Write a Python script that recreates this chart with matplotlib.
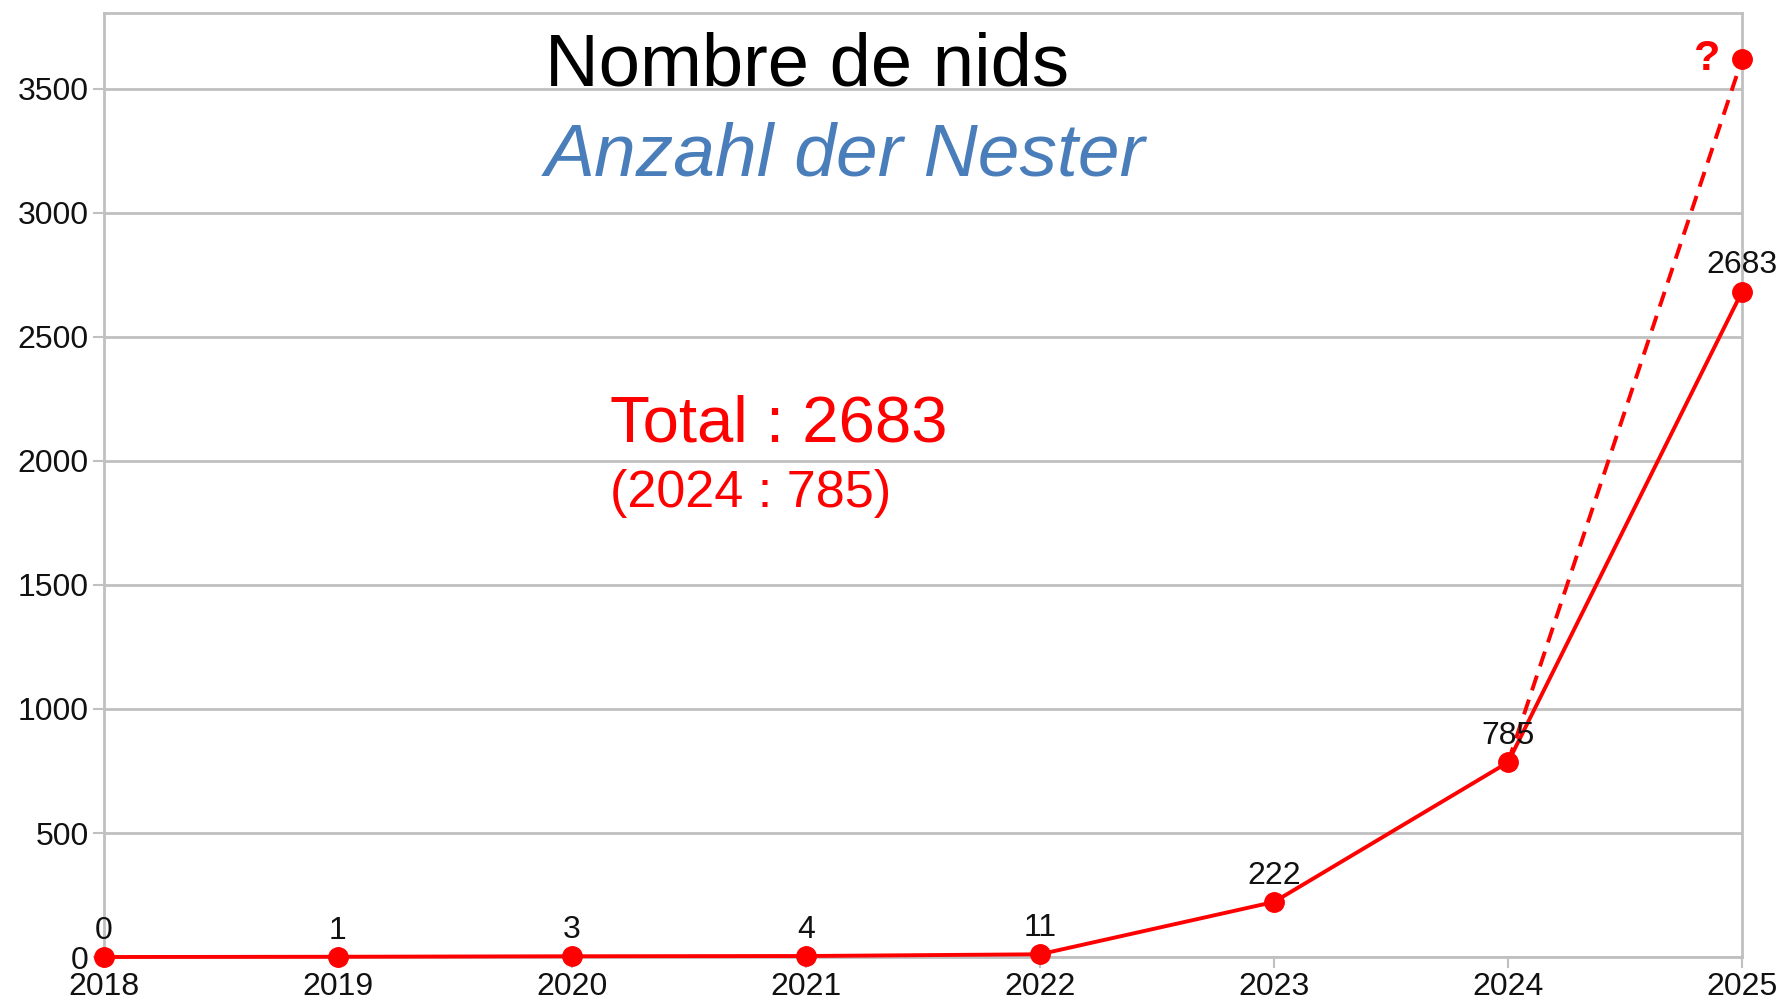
import matplotlib

matplotlib.use("Agg")
import matplotlib.pyplot as plt

plt.rcParams["font.family"] = ["Liberation Sans", "DejaVu Sans"]

# data
years = [2018, 2019, 2020, 2021, 2022, 2023, 2024, 2025]
nests = [0, 1, 3, 4, 11, 222, 785, 2683]
proj_years = [2024, 2025]
proj_nests = [785, 3620]
yticks = [0, 500, 1000, 1500, 2000, 2500, 3000, 3500]

RED = "#ff0000"
GRID = "#c0c0c0"

fig = plt.figure(figsize=(17.86, 10.06), dpi=100)
ax = fig.add_axes([0.0582, 0.0487, 0.9172, 0.9383])

ax.plot(proj_years, proj_nests, color=RED, linewidth=2.8, linestyle=(0, (4, 2.5)),
        clip_on=False, zorder=3)
ax.plot(proj_years[-1:], proj_nests[-1:], "o", color=RED, markersize=14, clip_on=False, zorder=4)
ax.plot(years, nests, color=RED, linewidth=2.8, marker="o", markersize=14,
        clip_on=False, zorder=4)

for x, y in zip(years, nests):
    ax.annotate(str(y), (x, y), xytext=(0, 8), textcoords="offset points",
                ha="center", va="bottom", fontsize=23, color="#111111", zorder=5)
ax.annotate("?", (proj_years[-1], proj_nests[-1]), xytext=(-25, 0), textcoords="offset points",
            ha="center", va="center", fontsize=31, fontweight="bold", color=RED)

ax.set_xlim(2018, 2025)
ax.set_ylim(0, 3806)
ax.set_xticks(years)
ax.set_yticks(yticks)
ax.tick_params(axis="both", labelsize=23, color=GRID, width=1.5, length=8, labelcolor="#111111")
ax.tick_params(axis="x", pad=3)
ax.tick_params(axis="y", pad=3)
ax.grid(True, axis="y", color=GRID, linewidth=2)
ax.set_axisbelow(True)
for sp in ax.spines.values():
    sp.set_color(GRID)
    sp.set_linewidth(2)

fig.text(0.305, 1 - 85 / 1006, "Nombre de nids", fontsize=53.5, color="black", va="baseline")
fig.text(0.305, 1 - 175 / 1006, "Anzahl der Nester", fontsize=54, color="#4a7ebb",
         style="italic", va="baseline")
fig.text(0.3415, 1 - 441 / 1006, "Total : 2683", fontsize=47, color=RED, va="baseline")
fig.text(0.3415, 1 - 507 / 1006, "(2024 : 785)", fontsize=37.5, color=RED, va="baseline")

fig.savefig("out.png", dpi=100)
plt.close(fig)
